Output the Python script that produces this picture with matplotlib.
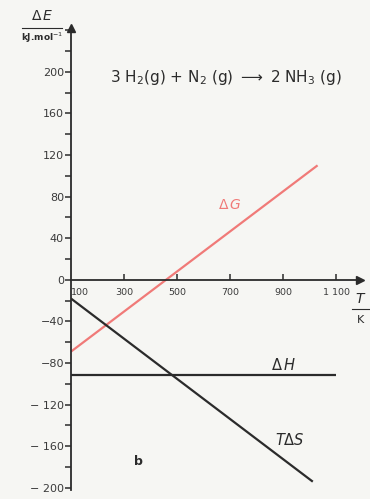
import matplotlib
matplotlib.use("Agg")
import matplotlib.pyplot as plt
from matplotlib.ticker import MultipleLocator

# ---- data ----
T_dG = [100, 1030]
dG = [-69, 110]
T_dH = [100, 1100]
dH = [-91, -91]
T_TdS = [100, 1012]
TdS = [-18, -194]

xticks = [100, 300, 500, 700, 900, 1100]
xtick_labels = ["100", "300", "500", "700", "900", "1 100"]
yticks = [-200, -160, -120, -80, -40, 0, 40, 80, 120, 160, 200]
ytick_labels = ["− 200", "− 160", "− 120", "−80", "−40", "0", "40", "80", "120", "160", "200"]

bg = "#f6f6f3"
ink = "#2b2b2b"
red = "#f07a78"

fig = plt.figure(figsize=(3.70, 4.99), dpi=100, facecolor=bg)
ax = fig.add_axes([71/370, 1 - 490/499, (360 - 71)/370, (490 - 28)/499])
ax.set_facecolor(bg)
ax.set_xlim(100, 1190)
ax.set_ylim(-202, 242)

ax.plot(T_dG, dG, color=red, lw=1.6, solid_capstyle="butt")
ax.plot(T_dH, dH, color=ink, lw=1.6, solid_capstyle="butt")
ax.plot(T_TdS, TdS, color=ink, lw=1.6, solid_capstyle="butt")

for s in ["top", "right"]:
    ax.spines[s].set_visible(False)
ax.spines["bottom"].set_position(("data", 0))
ax.spines["left"].set_position(("data", 100))
for s in ["left", "bottom"]:
    ax.spines[s].set_color(ink)
    ax.spines[s].set_linewidth(1.3)

# arrows
ax.plot(1, 0, ">", color=ink, ms=6, transform=ax.get_yaxis_transform(), clip_on=False)
ax.plot(100, 1, "^", color=ink, ms=6, transform=ax.get_xaxis_transform(), clip_on=False)

ax.set_yticks(yticks)
ax.set_yticklabels(ytick_labels)
ax.yaxis.set_minor_locator(MultipleLocator(20))
ax.tick_params(axis="y", which="both", direction="out", length=4, width=1.1,
               color=ink, labelcolor="#3a3a3a", labelsize=8, pad=1)

ax.set_xticks(xticks)
ax.set_xticklabels(xtick_labels)
ax.tick_params(axis="x", which="both", direction="in", length=4, width=1.1,
               color=ink, labelcolor="#3a3a3a", labelsize=6.8, pad=6)
xt = ax.xaxis.get_major_ticks()
xt[0].tick1line.set_visible(False)
xt[0].label1.set_horizontalalignment("left")

# axis labels (fraction style)
fig.text(42/370, 1 - 16/499, r"$\Delta\,E$", ha="center", va="center", fontsize=10, color=ink)
fig.add_artist(plt.Line2D([22/370, 62/370], [1 - 28/499, 1 - 28/499], color=ink, lw=0.8))
fig.text(42/370, 1 - 38/499, "kJ.mol$^{-1}$", ha="center", va="center", fontsize=6.5,
         color=ink, fontweight="bold")

fig.text(361/370, 1 - 299/499, r"$T$", ha="center", va="center", fontsize=10, color=ink)
fig.add_artist(plt.Line2D([352/370, 370/370], [1 - 309/499, 1 - 309/499], color=ink, lw=0.8))
fig.text(361/370, 1 - 320/499, "K", ha="center", va="center", fontsize=8, color=ink)

# equation
ax.text(683, 194, r"3 H$_2$(g) + N$_2$ (g) $\longrightarrow$ 2 NH$_3$ (g)",
        ha="center", va="center", fontsize=11, color=ink)

# curve labels
ax.text(700, 72, r"$\Delta\,G$", ha="center", va="center", fontsize=10, color=red)
ax.text(900, -82, r"$\Delta\,H$", ha="center", va="center", fontsize=10.5, color=ink)
ax.text(925, -154, r"$T\Delta S$", ha="center", va="center", fontsize=10.5, color=ink)
ax.text(356, -175, "b", ha="center", va="center", fontsize=9, color=ink, fontweight="bold")

fig.savefig("out.png", dpi=100, facecolor=bg)
